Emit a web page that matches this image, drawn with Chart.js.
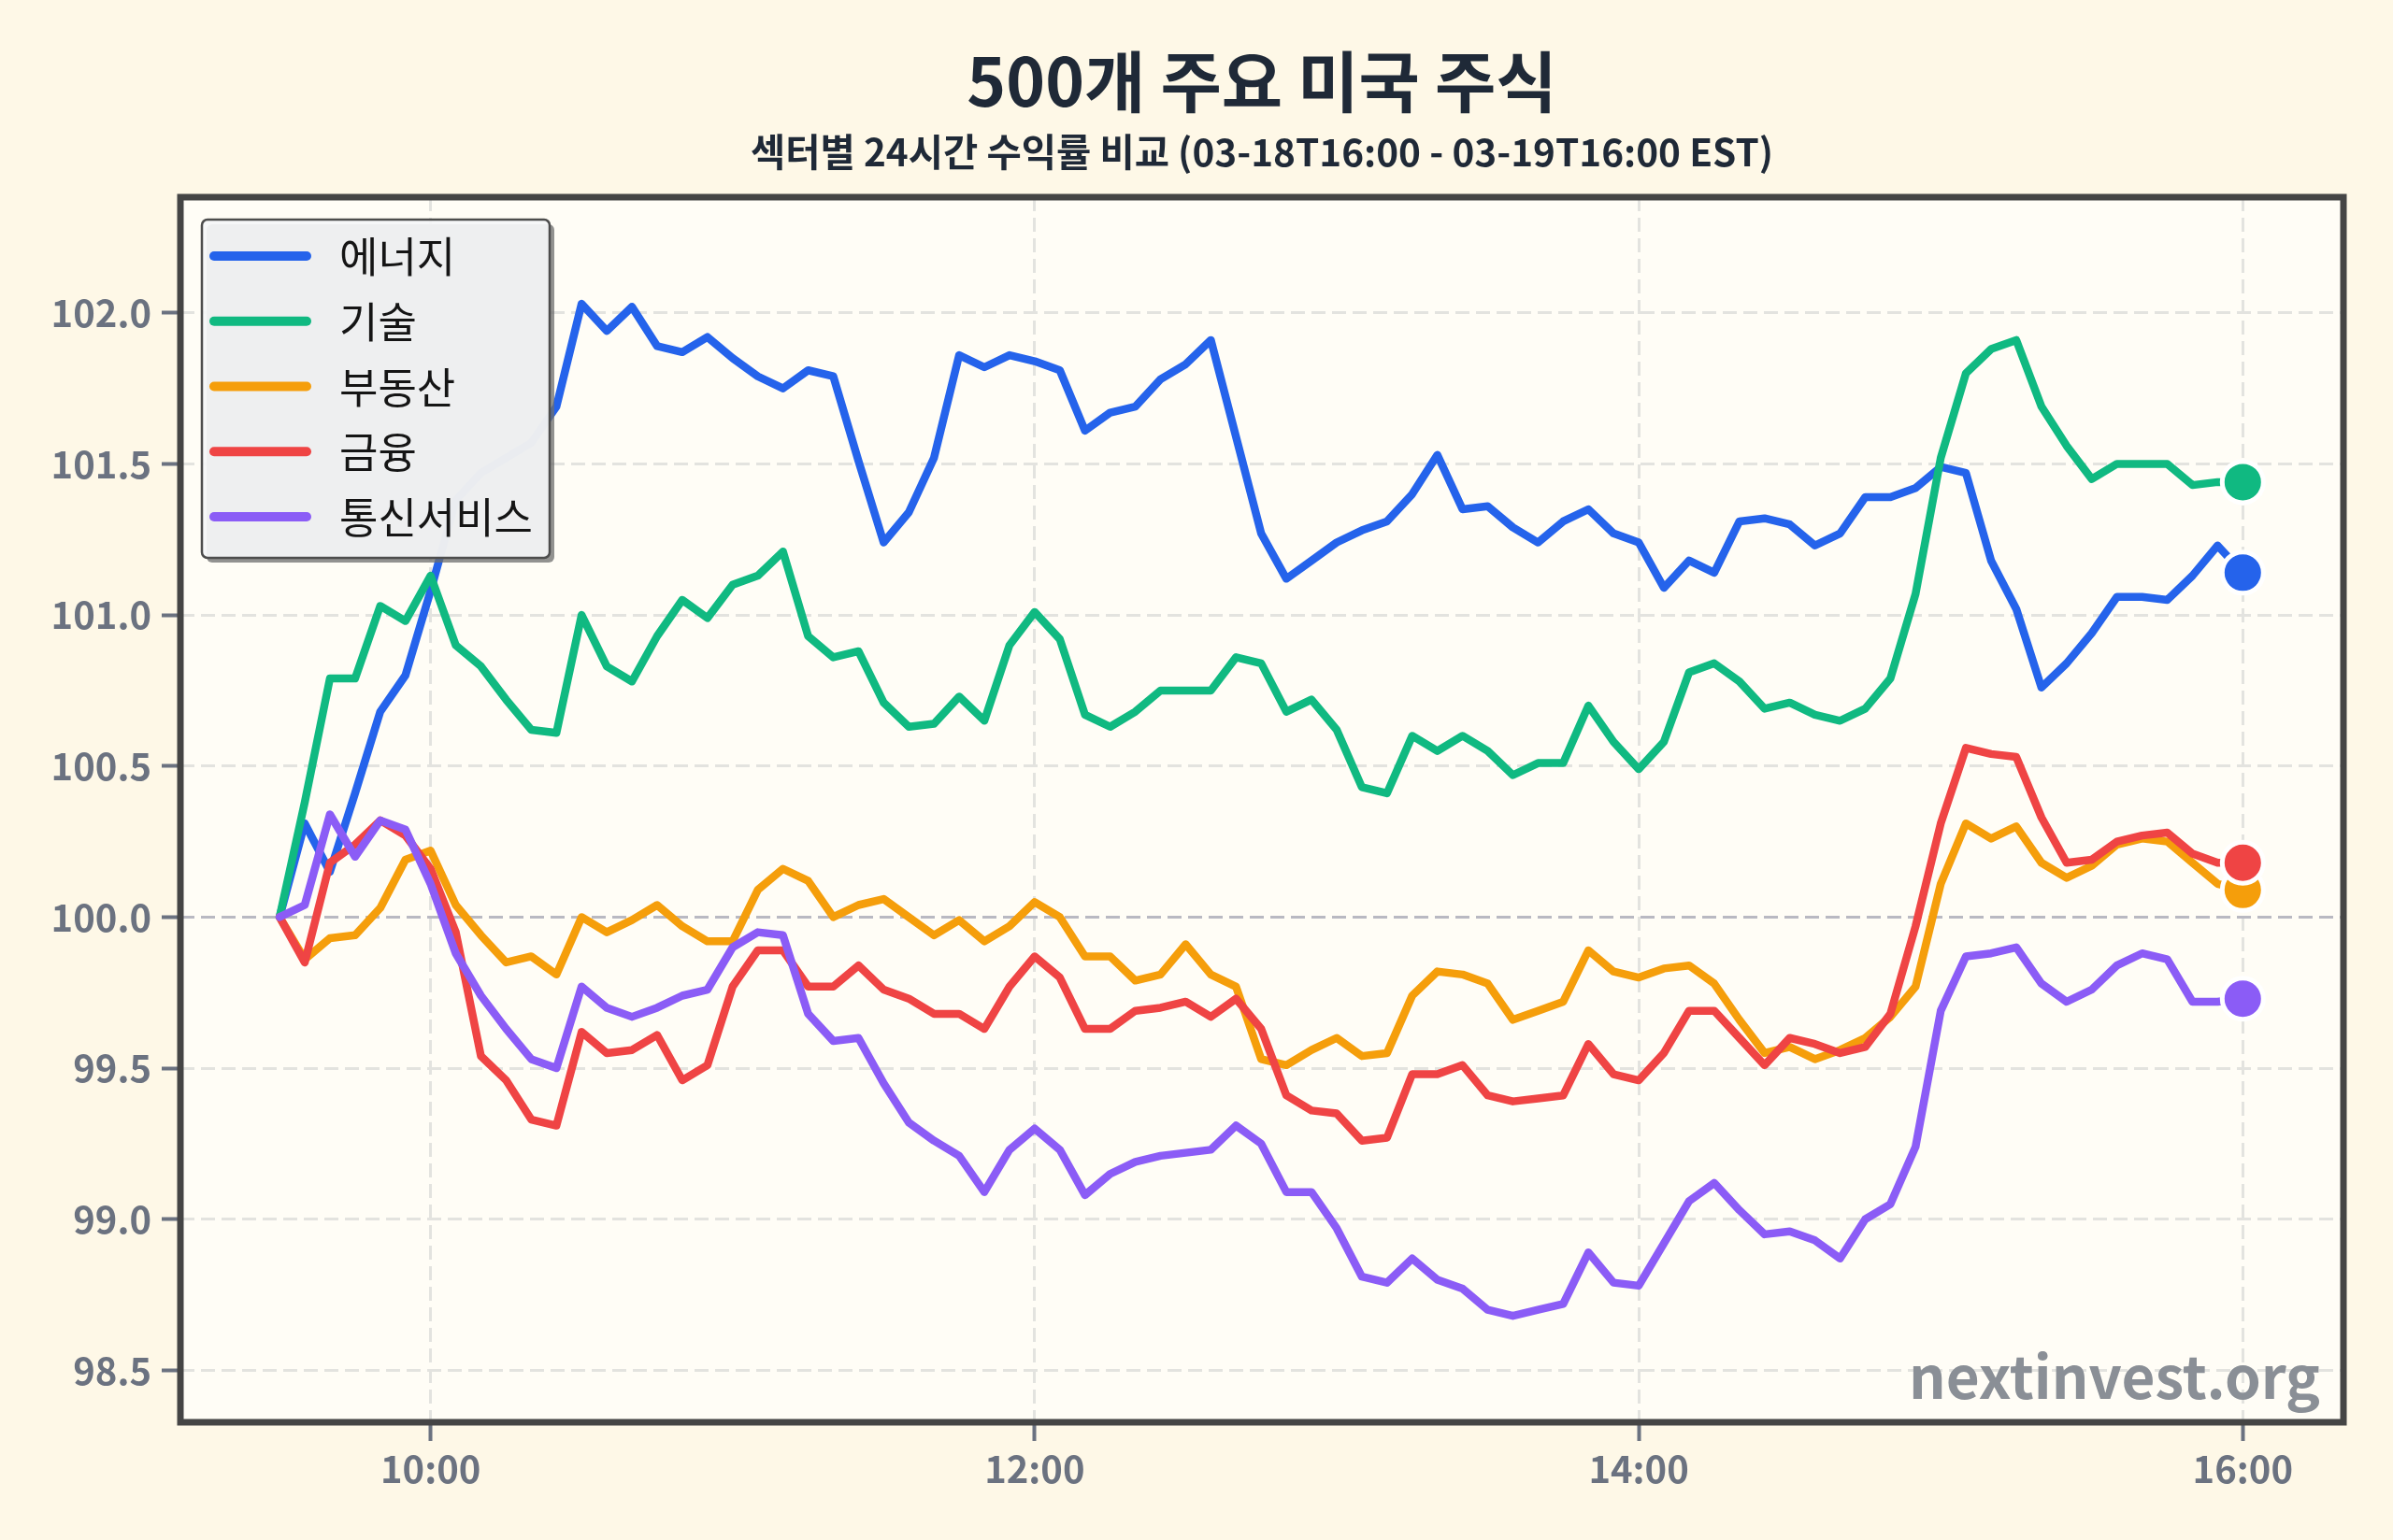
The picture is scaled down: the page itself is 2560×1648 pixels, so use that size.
<!DOCTYPE html>
<html lang="en">
<head>
<meta charset="utf-8">
<title>500개 주요 미국 주식</title>
<script src="https://cdn.jsdelivr.net/npm/chart.js@4.4.1/dist/chart.umd.min.js"></script>
<style>
  html, body { margin: 0; padding: 0; background: #fef8e7; }
  canvas { display: block; }
</style>
</head>
<body>
<canvas id="chart" width="2560" height="1648" lang="en"></canvas>
<script>
// 5-minute bars, 09:30 - 16:00
let times = [
    '09:30', '09:35', '09:40', '09:45', '09:50', '09:55',
    '10:00', '10:05', '10:10', '10:15', '10:20', '10:25', '10:30', '10:35', '10:40', '10:45', '10:50', '10:55',
    '11:00', '11:05', '11:10', '11:15', '11:20', '11:25', '11:30', '11:35', '11:40', '11:45', '11:50', '11:55',
    '12:00', '12:05', '12:10', '12:15', '12:20', '12:25', '12:30', '12:35', '12:40', '12:45', '12:50', '12:55',
    '13:00', '13:05', '13:10', '13:15', '13:20', '13:25', '13:30', '13:35', '13:40', '13:45', '13:50', '13:55',
    '14:00', '14:05', '14:10', '14:15', '14:20', '14:25', '14:30', '14:35', '14:40', '14:45', '14:50', '14:55',
    '15:00', '15:05', '15:10', '15:15', '15:20', '15:25', '15:30', '15:35', '15:40', '15:45', '15:50', '15:55',
    '16:00'
];

let energy = [
    100.00, 100.31, 100.15, 100.41, 100.68, 100.80,
    101.08, 101.38, 101.47, 101.52, 101.57, 101.69, 102.03, 101.94, 102.02, 101.89, 101.87, 101.92,
    101.85, 101.79, 101.75, 101.81, 101.79, 101.51, 101.24, 101.34, 101.52, 101.86, 101.82, 101.86,
    101.84, 101.81, 101.61, 101.67, 101.69, 101.78, 101.83, 101.91, 101.59, 101.27, 101.12, 101.18,
    101.24, 101.28, 101.31, 101.40, 101.53, 101.35, 101.36, 101.29, 101.24, 101.31, 101.35, 101.27,
    101.24, 101.09, 101.18, 101.14, 101.31, 101.32, 101.30, 101.23, 101.27, 101.39, 101.39, 101.42,
    101.49, 101.47, 101.18, 101.02, 100.76, 100.84, 100.94, 101.06, 101.06, 101.05, 101.13, 101.23,
    101.14
];
let tech = [
    100.00, 100.38, 100.79, 100.79, 101.03, 100.98,
    101.13, 100.90, 100.83, 100.72, 100.62, 100.61, 101.00, 100.83, 100.78, 100.93, 101.05, 100.99,
    101.10, 101.13, 101.21, 100.93, 100.86, 100.88, 100.71, 100.63, 100.64, 100.73, 100.65, 100.90,
    101.01, 100.92, 100.67, 100.63, 100.68, 100.75, 100.75, 100.75, 100.86, 100.84, 100.68, 100.72,
    100.62, 100.43, 100.41, 100.60, 100.55, 100.60, 100.55, 100.47, 100.51, 100.51, 100.70, 100.58,
    100.49, 100.58, 100.81, 100.84, 100.78, 100.69, 100.71, 100.67, 100.65, 100.69, 100.79, 101.07,
    101.52, 101.80, 101.88, 101.91, 101.69, 101.56, 101.45, 101.50, 101.50, 101.50, 101.43, 101.44,
    101.44
];
let realEstate = [
    100.00, 99.86, 99.93, 99.94, 100.03, 100.19,
    100.22, 100.04, 99.94, 99.85, 99.87, 99.81, 100.00, 99.95, 99.99, 100.04, 99.97, 99.92,
    99.92, 100.09, 100.16, 100.12, 100.00, 100.04, 100.06, 100.00, 99.94, 99.99, 99.92, 99.97,
    100.05, 100.00, 99.87, 99.87, 99.79, 99.81, 99.91, 99.81, 99.77, 99.53, 99.51, 99.56,
    99.60, 99.54, 99.55, 99.74, 99.82, 99.81, 99.78, 99.66, 99.69, 99.72, 99.89, 99.82,
    99.80, 99.83, 99.84, 99.78, 99.66, 99.55, 99.57, 99.53, 99.56, 99.60, 99.67, 99.77,
    100.11, 100.31, 100.26, 100.30, 100.18, 100.13, 100.17, 100.24, 100.26, 100.25, 100.18, 100.11,
    100.09
];
let finance = [
    100.00, 99.85, 100.18, 100.24, 100.32, 100.27,
    100.16, 99.95, 99.54, 99.46, 99.33, 99.31, 99.62, 99.55, 99.56, 99.61, 99.46, 99.51,
    99.77, 99.89, 99.89, 99.77, 99.77, 99.84, 99.76, 99.73, 99.68, 99.68, 99.63, 99.77,
    99.87, 99.80, 99.63, 99.63, 99.69, 99.70, 99.72, 99.67, 99.73, 99.63, 99.41, 99.36,
    99.35, 99.26, 99.27, 99.48, 99.48, 99.51, 99.41, 99.39, 99.40, 99.41, 99.58, 99.48,
    99.46, 99.55, 99.69, 99.69, 99.60, 99.51, 99.60, 99.58, 99.55, 99.57, 99.68, 99.97,
    100.31, 100.56, 100.54, 100.53, 100.33, 100.18, 100.19, 100.25, 100.27, 100.28, 100.21, 100.18,
    100.18
];
let comm = [
    100.00, 100.04, 100.34, 100.20, 100.32, 100.29,
    100.11, 99.88, 99.74, 99.63, 99.53, 99.50, 99.77, 99.70, 99.67, 99.70, 99.74, 99.76,
    99.90, 99.95, 99.94, 99.68, 99.59, 99.60, 99.45, 99.32, 99.26, 99.21, 99.09, 99.23,
    99.30, 99.23, 99.08, 99.15, 99.19, 99.21, 99.22, 99.23, 99.31, 99.25, 99.09, 99.09,
    98.97, 98.81, 98.79, 98.87, 98.80, 98.77, 98.70, 98.68, 98.70, 98.72, 98.89, 98.79,
    98.78, 98.92, 99.06, 99.12, 99.03, 98.95, 98.96, 98.93, 98.87, 99.00, 99.05, 99.24,
    99.69, 99.87, 99.88, 99.90, 99.78, 99.72, 99.76, 99.84, 99.88, 99.86, 99.72, 99.72,
    99.73
];

let sectorNames = ['에너지', '기술', '부동산', '금융', '통신서비스'];
let sectorColors = ['#2563eb', '#10b981', '#f59e0b', '#ef4444', '#8b5cf6'];
let xTickLabels = ['10:00', '12:00', '14:00', '16:00'];
let yTicks = [98.5, 99.0, 99.5, 100.0, 100.5, 101.0, 101.5, 102.0];

function toMinutes(t) {
    let parts = t.split(':');
    return parseInt(parts[0]) * 60 + parseInt(parts[1]);
}

function toPoints(values) {
    return values.map((v, i) => ({ x: toMinutes(times[i]), y: v }));
}

let FONT = '"Noto Sans CJK KR", "Noto Sans", sans-serif';
Chart.defaults.font.family = FONT;

// background + plot face
const backdrop = {
    id: 'backdrop',
    beforeDraw(chart) {
        let ctx = chart.ctx;
        let a = chart.chartArea;
        ctx.save();
        ctx.fillStyle = '#fef8e7';
        ctx.fillRect(0, 0, chart.width, chart.height);
        ctx.fillStyle = '#fffdf6';
        ctx.fillRect(a.left, a.top, a.right - a.left, a.bottom - a.top);
        ctx.restore();
    },
    afterDatasetsDraw(chart) {
        let ctx = chart.ctx;
        let a = chart.chartArea;
        ctx.save();

        // watermark
        ctx.font = 'bold 62px ' + FONT;
        ctx.fillStyle = '#8a8f96';
        ctx.textAlign = 'right';
        ctx.textBaseline = 'alphabetic';
        ctx.fillText('nextinvest.org', a.right - 25, a.bottom - 25);

        // legend box with shadow
        let lx = a.left + 23, ly = a.top + 24, lw = 372, lh = 362;
        ctx.fillStyle = 'rgba(110,110,110,0.75)';
        ctx.beginPath();
        ctx.roundRect(lx + 5, ly + 5, lw, lh, 6);
        ctx.fill();
        ctx.fillStyle = 'rgba(245,246,248,0.93)';
        ctx.strokeStyle = '#4d4d4d';
        ctx.lineWidth = 2.5;
        ctx.beginPath();
        ctx.roundRect(lx, ly, lw, lh, 6);
        ctx.fill();
        ctx.stroke();

        ctx.font = '45px ' + FONT;
        ctx.textAlign = 'left';
        ctx.textBaseline = 'middle';
        chart.data.datasets.forEach((ds, i) => {
            let cy = ly + 39 + i * 69.75;
            ctx.strokeStyle = ds.borderColor;
            ctx.lineWidth = 10;
            ctx.lineCap = 'round';
            ctx.beginPath();
            ctx.moveTo(lx + 13, cy);
            ctx.lineTo(lx + 112, cy);
            ctx.stroke();
            ctx.fillStyle = '#151515';
            ctx.fillText(ds.label, lx + 147, cy + 1);
        });
        ctx.restore();
    },
    afterDraw(chart) {
        let ctx = chart.ctx;
        let a = chart.chartArea;
        ctx.save();
        ctx.strokeStyle = '#454545';
        ctx.lineWidth = 7;
        ctx.strokeRect(a.left, a.top, a.right - a.left, a.bottom - a.top);
        ctx.restore();
    }
};

let series = [energy, tech, realEstate, finance, comm];
let lastIndex = times.length - 1;

let datasets = series.map((values, i) => ({
    label: sectorNames[i],
    data: toPoints(values),
    borderColor: sectorColors[i],
    backgroundColor: sectorColors[i],
    borderWidth: 8.5,
    borderJoinStyle: 'round',
    borderCapStyle: 'round',
    tension: 0,
    order: series.length - i,
    pointRadius: ctx => ctx.dataIndex === lastIndex ? 22 : 0,
    pointBorderWidth: 5,
    pointBorderColor: '#ffffff',
    pointBackgroundColor: sectorColors[i]
}));

let ctx = document.getElementById('chart');
let myChart = new Chart(ctx, {
    type: 'line',
    data: { datasets: datasets },
    options: {
        responsive: false,
        animation: false,
        events: [],
        layout: { padding: { left: 0, right: 53, top: 0, bottom: 0 } },
        plugins: {
            legend: { display: false },
            tooltip: { enabled: false },
            title: {
                display: true,
                text: '500개 주요 미국 주식',
                fullSize: false,
                color: '#1f2937',
                font: { size: 71, weight: 'bold', lineHeight: 1.2 },
                padding: { top: 44, bottom: 9.5 }
            },
            subtitle: {
                display: true,
                text: '섹터별 24시간 수익률 비교 (03-18T16:00 - 03-19T16:00 EST)',
                fullSize: false,
                color: '#1f2937',
                font: { size: 40.5, weight: 'bold', lineHeight: 1.2 },
                padding: { top: 0, bottom: 23.7 }
            }
        },
        scales: {
            x: {
                type: 'linear',
                min: 550.3,
                max: 980,
                afterBuildTicks: axis => {
                    axis.ticks = xTickLabels.map(t => ({ value: toMinutes(t) }));
                },
                afterFit: axis => { axis.height = 126; },
                ticks: {
                    autoSkip: false,
                    maxRotation: 0,
                    color: '#6b7280',
                    padding: 6,
                    font: { size: 40, weight: 'bold' },
                    callback: value => xTickLabels.find(t => toMinutes(t) === value) || ''
                },
                grid: {
                    color: '#e3e3df',
                    lineWidth: 3,
                    drawTicks: true,
                    tickLength: 20,
                    tickColor: '#6b7280',
                    tickWidth: 4
                },
                border: { display: false, dash: [15, 7] }
            },
            y: {
                type: 'linear',
                min: 98.328,
                max: 102.383,
                afterBuildTicks: axis => {
                    axis.ticks = yTicks.map(v => ({ value: v }));
                },
                afterFit: axis => { axis.width = 193; },
                ticks: {
                    autoSkip: false,
                    color: '#6b7280',
                    padding: 11,
                    font: { size: 40, weight: 'bold' },
                    callback: value => value.toFixed(1)
                },
                grid: {
                    color: c => (c.tick && c.tick.value === 100) ? '#b9b9c2' : '#e3e3df',
                    lineWidth: 3,
                    drawTicks: true,
                    tickLength: 20,
                    tickColor: '#6b7280',
                    tickWidth: 4
                },
                border: { display: false, dash: [15, 7] }
            }
        }
    },
    plugins: [backdrop]
});
</script>
</body>
</html>
